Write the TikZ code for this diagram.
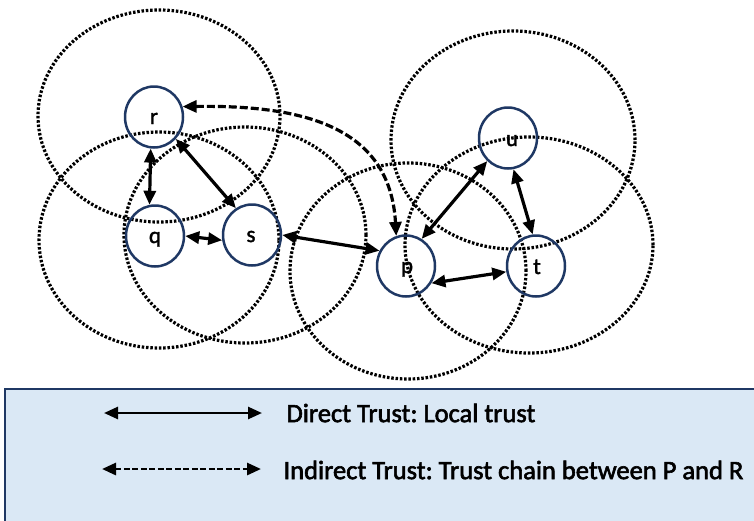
\documentclass[tikz,border=0pt]{standalone}
\usepackage{fontspec}
\setmainfont{Carlito}
\newfontfamily\heavyfont{Carlito}[FakeBold=2.2]
\newfontfamily\labelfont{Carlito}[FakeBold=1.6]
\usetikzlibrary{arrows.meta,shapes.geometric}
\definecolor{navy}{HTML}{1F3864}
\definecolor{legendfill}{HTML}{DAE8F5}
\frenchspacing
\begin{document}
\begin{tikzpicture}[x=1pt,y=-1pt,
  peerrange/.style={draw=black, line width=3.2pt, dash pattern=on 2.5pt off 1.8pt},
  peer/.style={draw=navy, line width=2.5pt, ellipse, minimum width=58pt,
    minimum height=61pt, inner sep=0pt},
  lbl/.style={font=\labelfont\fontsize{23}{23}\selectfont, anchor=base},
  trusttip/.tip={Triangle[length=14pt,width=12pt]},
  direct/.style={line width=3.2pt, trusttip-trusttip},
  indirect/.style={direct, dash pattern=on 8pt off 3pt},
  legtext/.style={font=\heavyfont\fontsize{26.5}{26.5}\selectfont, anchor=west},
]
\useasboundingbox (0,0) rectangle (754,520);

% communication ranges of the peers
\draw[peerrange] (159,116) ellipse [x radius=121pt, y radius=106pt];
\draw[peerrange] (159,240) ellipse [x radius=120pt, y radius=108pt];
\draw[peerrange] (245,235) ellipse [x radius=121pt, y radius=108pt];
\draw[peerrange] (408,271) ellipse [x radius=118pt, y radius=108pt];
\draw[peerrange] (513,140) ellipse [x radius=122pt, y radius=109pt];
\draw[peerrange] (529,245) ellipse [x radius=124pt, y radius=108pt];

% peers
\node[peer] (r) at (154,117) {};
\node[peer] (q) at (155,236) {};
\node[peer] (s) at (252,235) {};
\node[peer] (p) at (406,266) {};
\node[peer] (t) at (536,266) {};
\node[peer] (u) at (508,138) {};

\node[lbl] (rl) at (154,124) {r};
\node[lbl] (ql) at (155,243) {q};
\node[lbl] (sl) at (251,242) {s};
\node[lbl] (pl) at (407,273) {p};
\node[lbl] (tl) at (537,274) {t};
\node[lbl] (ul) at (512,146) {u};

% direct trust links
\draw[direct] (r.264) -- (q.100);
\draw[direct] (r.315) -- (s.121);
\draw[direct] (q.0) -- (s.190);
\draw[direct] (s.0) -- (p.150);
\draw[direct] (p.60) -- (u.228);
\draw[direct] (u.280) -- (t.96);
\draw[direct] (p.326) -- (t.191);

% indirect trust chain
\draw[indirect] (r.20) .. controls (300,105) and (390,125) .. (p.108);

% legend
\draw[draw=navy, fill=legendfill, line width=2.2pt] (5,389) rectangle (770,540);
\coordinate (d1) at (104,413);
\coordinate (d2) at (262,413);
\coordinate (i1) at (102,469);
\coordinate (i2) at (261,469);
\draw[line width=2.6pt, trusttip-trusttip] (d1) -- (d2);
\draw[line width=2.8pt, trusttip-trusttip, dash pattern=on 6pt off 2.5pt] (i1) -- (i2);
\node[legtext] (dt) at (283,413) {Direct Trust: Local trust};
\node[legtext] (it) at (280,470) {Indirect Trust: Trust chain between P and R};
\end{tikzpicture}
\end{document}
